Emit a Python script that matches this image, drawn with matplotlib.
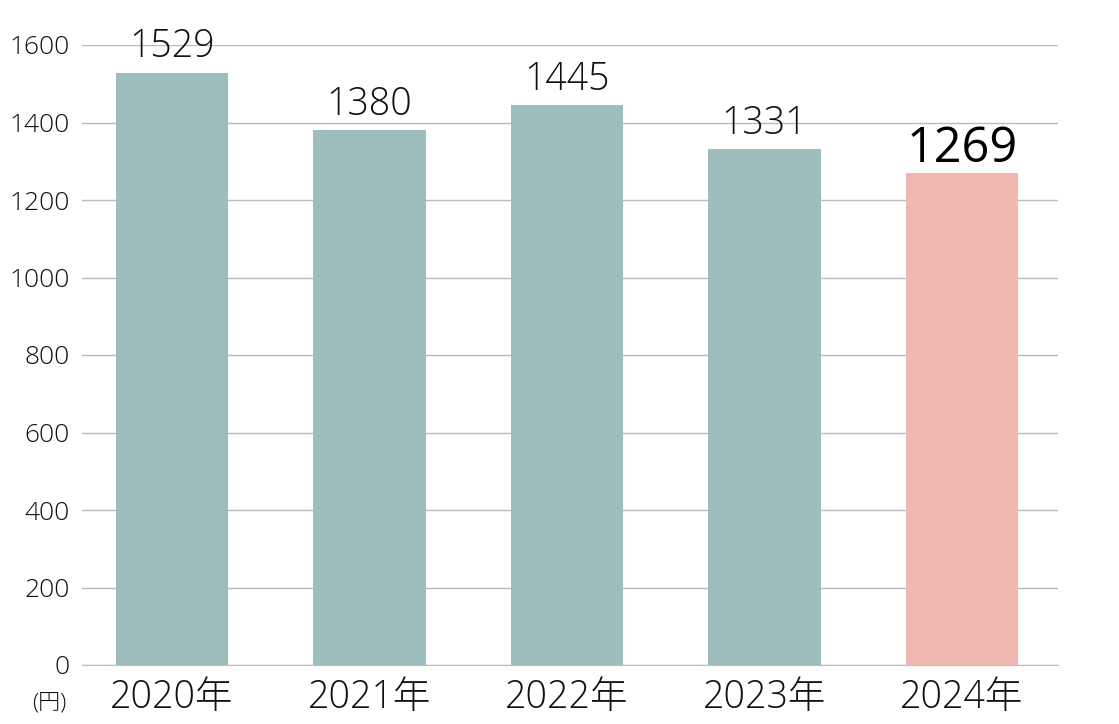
import matplotlib.pyplot as plt

plt.rcParams['font.family'] = ['Open Sans', 'Noto Sans CJK JP', 'DejaVu Sans']

# Data
years = ['2020年', '2021年', '2022年', '2023年', '2024年']
values = [1529, 1380, 1445, 1331, 1269]
colors = ['#9ebdbd', '#9ebdbd', '#9ebdbd', '#9ebdbd', '#f0b8b0']

fig = plt.figure(figsize=(11.19, 7.24), dpi=100)
ax = fig.add_axes([82 / 1119, 1 - 665 / 724, (1058 - 82) / 1119, (665 - 45) / 724])

x = range(len(years))
bars = ax.bar(x, values, width=0.57, color=colors, zorder=2)

# value labels
for i, v in enumerate(values):
    if i == len(values) - 1:
        ax.annotate(str(v), (i, v), xytext=(0, 8), textcoords='offset points',
                    ha='center', va='baseline', fontsize=35, fontweight='medium', color='black')
    else:
        ax.annotate(str(v), (i, v), xytext=(0, 11), textcoords='offset points',
                    ha='center', va='baseline', fontsize=27, fontweight='light', color='#111111')

ax.set_xlim(-0.456, 4.486)
ax.set_ylim(0, 1600)
ax.set_yticks(range(0, 1601, 200))
ax.set_xticks(list(x))
ax.set_xticklabels(years, fontsize=27, fontweight='light', color='#111111')
ax.tick_params(axis='y', labelsize=19, labelcolor='#111111', length=0, pad=9)
for t in ax.get_yticklabels():
    t.set_fontweight('light')
ax.tick_params(axis='x', length=0, pad=10)

ax.grid(axis='y', color='#bbbbbb', linewidth=1, zorder=1)
for s in ['top', 'right', 'left']:
    ax.spines[s].set_visible(False)
ax.spines['bottom'].set_color('#bbbbbb')

fig.text(49 / 1119, 1 - 703 / 724, '(円)', ha='center', va='center', fontsize=16,
         fontweight='light', color='#111111')

fig.savefig('out.png', dpi=100)
